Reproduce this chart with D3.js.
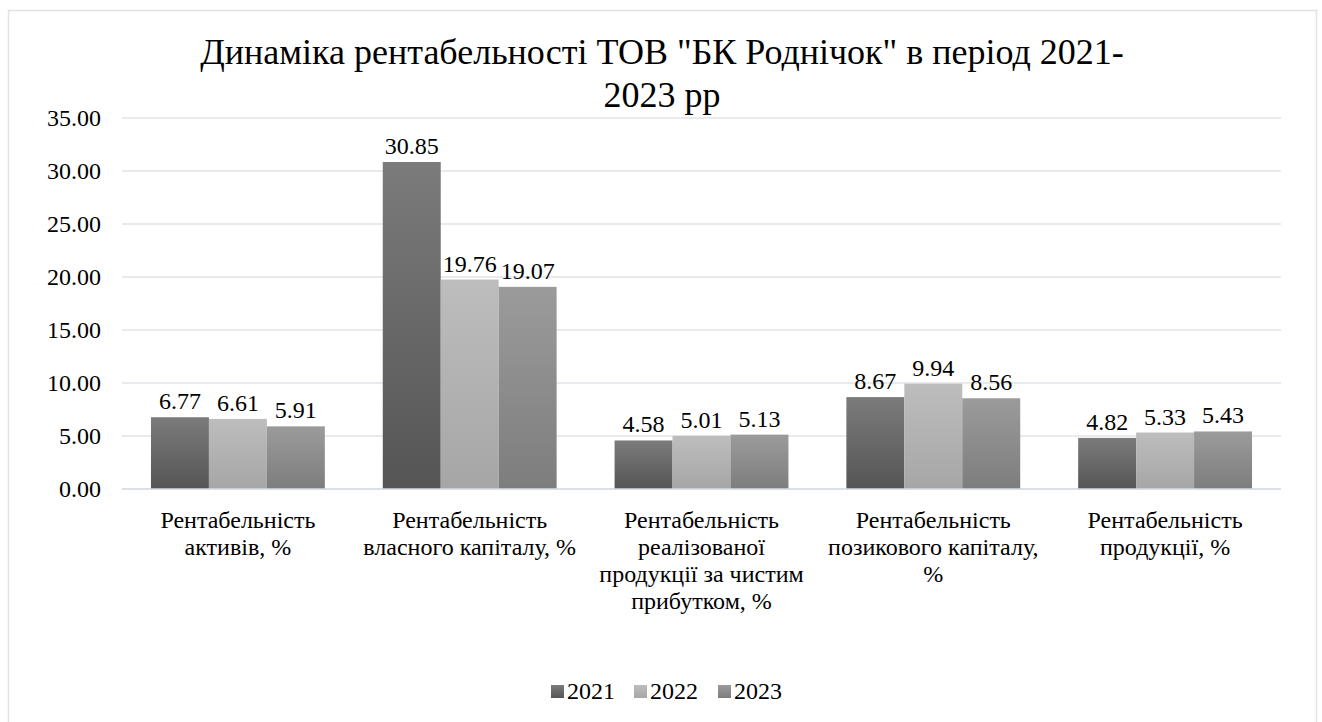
<!DOCTYPE html>
<html lang="uk">
<head>
  <meta charset="UTF-8">
  <title>Динаміка рентабельності</title>
  <script src="https://d3js.org/d3.v7.min.js"></script>
  <style>
    html, body {
      margin: 0;
      padding: 0;
      background: #ffffff;
    }
    svg {
      display: block;
    }
    svg text {
      font-family: "Liberation Serif", "DejaVu Serif", "Noto Serif", Tinos, "Times New Roman", Times, serif;
    }
  </style>
</head>
<body>
<svg width="1322" height="722"></svg>
<script>
  // data
  const categories = [
    ["Рентабельність", "активів, %"],
    ["Рентабельність", "власного капіталу, %"],
    ["Рентабельність", "реалізованої", "продукції за чистим", "прибутком, %"],
    ["Рентабельність", "позикового капіталу,", "%"],
    ["Рентабельність", "продукції, %"]
  ];
  const years = ["2021", "2022", "2023"];
  const values2021 = [6.77, 30.85, 4.58, 8.67, 4.82];
  const values2022 = [6.61, 19.76, 5.01, 9.94, 5.33];
  const values2023 = [5.91, 19.07, 5.13, 8.56, 5.43];
  const yTicks = [0, 5, 10, 15, 20, 25, 30, 35];
  const titleLines = ["Динаміка рентабельності ТОВ \"БК Роднічок\" в період 2021-", "2023 рр"];

  const series = [values2021, values2022, values2023];
  const colorsTop = ["#7b7b7b", "#bdbdbd", "#9b9b9b"];
  const colorsBottom = ["#555555", "#a6a6a6", "#7d7d7d"];

  const svg = d3.select("svg");
  const defs = svg.append("defs");
  years.forEach((yr, i) => {
    const gr = defs.append("linearGradient")
      .attr("id", "grad" + i)
      .attr("x1", 0).attr("y1", 0).attr("x2", 0).attr("y2", 1);
    gr.append("stop").attr("offset", "0%").attr("stop-color", colorsTop[i]);
    gr.append("stop").attr("offset", "100%").attr("stop-color", colorsBottom[i]);
  });

  // chart frame
  svg.append("rect")
    .attr("x", 8.5).attr("y", 10.5)
    .attr("width", 1308).attr("height", 730)
    .attr("fill", "#ffffff")
    .attr("stroke", "#dfe3e8").attr("stroke-width", 1.5);

  const plotLeft = 122, plotRight = 1281, plotTop = 118, plotBottom = 489;

  const x0 = d3.scaleBand()
    .domain(d3.range(categories.length))
    .range([plotLeft, plotRight])
    .paddingInner(0.25)
    .paddingOuter(0.125);

  const x1 = d3.scaleBand()
    .domain(d3.range(years.length))
    .range([0, x0.bandwidth()]);

  const y = d3.scaleLinear().domain([0, 35]).range([plotBottom, plotTop]);

  // gridlines
  svg.append("g").selectAll("line").data(yTicks).join("line")
    .attr("x1", plotLeft).attr("x2", plotRight)
    .attr("y1", d => y(d)).attr("y2", d => y(d))
    .attr("stroke", "#e0e3e8").attr("stroke-width", 1.5);

  // y axis labels
  const yAxis = d3.axisLeft(y).tickValues(yTicks).tickFormat(d3.format(".2f")).tickSize(0).tickPadding(21);
  const ya = svg.append("g").attr("transform", `translate(${plotLeft},0)`).call(yAxis);
  ya.select(".domain").remove();
  ya.selectAll("text")
    .attr("font-size", 24).attr("fill", "#000");

  // bars
  const groups = svg.append("g").selectAll("g").data(categories).join("g")
    .attr("transform", (d, i) => `translate(${x0(i)},0)`);

  groups.each(function (c, ci) {
    const g = d3.select(this);
    const vals = series.map(s => s[ci]);
    g.selectAll("rect").data(vals).join("rect")
      .attr("x", (d, si) => x1(si))
      .attr("width", x1.bandwidth())
      .attr("y", d => y(d))
      .attr("height", d => y(0) - y(d))
      .attr("fill", (d, si) => `url(#grad${si})`);
    g.selectAll("text").data(vals).join("text")
      .attr("x", (d, si) => x1(si) + x1.bandwidth() / 2)
      .attr("y", d => y(d) - 8)
      .attr("text-anchor", "middle")
      .attr("font-size", 24)
      .attr("fill", "#000")
      .text(d => d.toFixed(2));
  });

  // baseline
  svg.append("line")
    .attr("x1", plotLeft).attr("x2", plotRight)
    .attr("y1", y(0)).attr("y2", y(0))
    .attr("stroke", "#d9dce1").attr("stroke-width", 1.5);

  // category labels
  const catLabels = svg.append("g").selectAll("text").data(categories).join("text")
    .attr("text-anchor", "middle")
    .attr("font-size", 24)
    .attr("fill", "#000")
    .attr("x", (d, i) => x0(i) + x0.bandwidth() / 2)
    .attr("y", 528);
  catLabels.each(function (lines, i) {
    d3.select(this).selectAll("tspan").data(lines).join("tspan")
      .attr("x", x0(i) + x0.bandwidth() / 2)
      .attr("dy", (d, k) => k === 0 ? 0 : 27)
      .text(d => d);
  });

  // title
  svg.append("g").selectAll("text").data(titleLines).join("text")
    .attr("x", 662)
    .attr("y", (d, i) => 64 + i * 43)
    .attr("text-anchor", "middle")
    .attr("font-size", 36)
    .attr("fill", "#000")
    .text(d => d);

  // legend
  const legendX = [551, 634, 718];
  const legend = svg.append("g").selectAll("g").data(years).join("g")
    .attr("transform", (d, i) => `translate(${legendX[i]},685)`);
  legend.append("rect")
    .attr("width", 13).attr("height", 13)
    .attr("fill", (d, i) => `url(#grad${i})`);
  legend.append("text")
    .attr("x", 16).attr("y", 14)
    .attr("font-size", 24)
    .attr("fill", "#000")
    .text(d => d);
</script>
</body>
</html>
